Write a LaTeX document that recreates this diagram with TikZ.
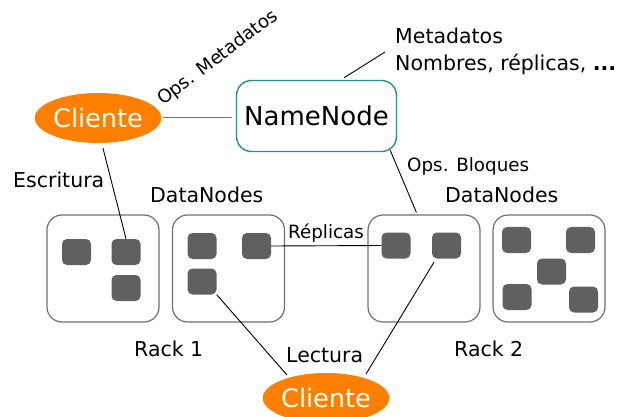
\documentclass[tikz,border=0pt]{standalone}
\usepackage{fontspec}
\setmainfont{DejaVu Sans}
\usetikzlibrary{shapes.geometric}
\definecolor{clientorange}{RGB}{255,128,0}
\definecolor{nameteal}{RGB}{38,144,144}
\definecolor{blockgray}{RGB}{96,96,96}
\definecolor{rackgray}{RGB}{112,112,112}
\newcommand{\fs}[1]{\fontsize{#1}{#1}\selectfont}
\tikzset{
  client/.style={ellipse, fill=clientorange, draw=none, minimum width=120pt, minimum height=50pt,
    inner sep=0pt, text=white, font=\fs{25.5}},
  namebox/.style={draw=nameteal, line width=1.4pt, rounded corners=15pt, fill=white,
    minimum width=160pt, minimum height=71pt, inner sep=0pt, font=\fs{26}},
  rack/.style={draw=rackgray, line width=1.2pt, rounded corners=15pt,
    minimum width=112pt, minimum height=107pt, inner sep=0pt},
  block/.style={fill=blockgray, draw=none, rounded corners=5pt,
    minimum width=29pt, minimum height=26pt, inner sep=0pt},
  label/.style={anchor=base west, inner sep=0pt, font=\fs{20.5}},
  small/.style={anchor=base west, inner sep=0pt, font=\fs{18.3}},
  link/.style={draw=black, line width=0.9pt},
}
\begin{document}
\begin{tikzpicture}[x=1pt, y=-1pt]
\useasboundingbox (0,0) rectangle (619,417);

% racks with their DataNode blocks
\node[rack] (r1) at (103,268.5) {};
\node[rack] (r2) at (228.5,268.5) {};
\node[rack] (r3) at (424,268.5) {};
\node[rack] (r4) at (549,268.5) {};

\node[block] (s11) at (76.5,252) {};
\node[block] (s12) at (126,252) {};
\node[block] (s13) at (126,288) {};

\node[block] (s21) at (202,246) {};
\node[block] (s22) at (256.5,246) {};
\node[block] (s23) at (202,281.5) {};

\node[block] (s31) at (396,245.5) {};
\node[block] (s32) at (446.5,245.5) {};

\node[block] (s41) at (516.5,240) {};
\node[block] (s42) at (580.5,240) {};
\node[block] (s43) at (551.5,271.5) {};
\node[block] (s44) at (517,297) {};
\node[block] (s45) at (583.5,299.5) {};

% clients and the NameNode
\node[client] (cl1) at (98,118) {Cliente};
\node[client] (cl2) at (326,398) {Cliente};
\node[namebox] (nn) at (316.5,116) {NameNode};

% metadata note
\node[label] (meta1) at (395,44) {Metadatos};
\node[label] (meta2) at (395,71) {Nombres, réplicas, {\bfseries ...}};

% labels
\node[small, rotate=37] (opsmeta) at (163,106) {Ops. Metadatos};
\node[small] (opsblq) at (407,172) {Ops. Bloques};
\node[label] (escr) at (13,188) {Escritura};
\node[label] (dn1) at (150,203) {DataNodes};
\node[label] (dn2) at (445,203) {DataNodes};
\node[label] (rk1) at (134,356) {Rack 1};
\node[label] (rk2) at (454,356) {Rack 2};
\node[label] (lect) at (286,362) {Lectura};
\node[small] (repl) at (288,239) {Réplicas};

% connectors
\draw[draw=rackgray, line width=1pt] ([xshift=2pt]cl1.east) -- ([xshift=-4pt]nn.west |- cl1.east);
\draw[link] ([shift={(27.5,-2)}]nn.north) -- ([shift={(-10,8)}]meta1.base west);
\draw[link] ([shift={(-7,-2)}]nn.south east) -- ([shift={(49,-2)}]r3.north west);
\draw[link] ([shift={(5,5)}]cl1.south) -- (s12.north);
\draw[link] (s22.east) -- (s31.west);
\draw[link] (s23.south east) -- ([shift={(-39,-23)}]cl2.center);
\draw[link] ([shift={(-12.5,3.5)}]s32.south) -- ([shift={(40,-24)}]cl2.center);
\end{tikzpicture}
\end{document}
